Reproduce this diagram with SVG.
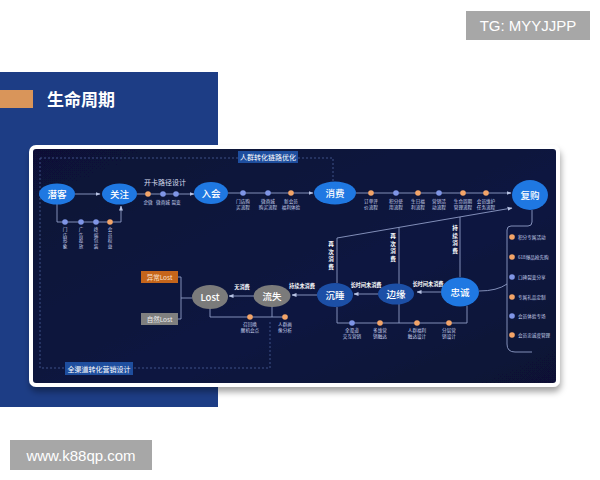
<svg xmlns="http://www.w3.org/2000/svg" width="600" height="480" viewBox="0 0 600 480">
<style>
.cj{font-family:"Noto Sans CJK SC","Noto Sans",sans-serif}
.nl{font-family:"Noto Sans CJK SC",sans-serif;font-size:9.5px;fill:#fff;text-anchor:middle;font-weight:500}
.sm{font-family:"Noto Sans CJK SC",sans-serif;font-size:4.6px;fill:#c9d2ee;text-anchor:middle}
.rl{font-family:"Noto Sans CJK SC",sans-serif;font-size:4.6px;fill:#c9d2ee}
.el{font-family:"Noto Sans CJK SC",sans-serif;font-size:5.2px;fill:#fff;text-anchor:middle;font-weight:700}
.vt{font-family:"Noto Sans CJK SC",sans-serif;font-size:5.6px;fill:#fff;text-anchor:middle;font-weight:700}
.ln{fill:none;stroke:#8e9cc6;stroke-width:0.9}
.ds{fill:none;stroke:#4c5f9c;stroke-width:0.8;stroke-dasharray:2 2}
.bn{fill:#1f78e2}
.dn{fill:#1c4fa6}
.gn{fill:#7b7b7b}
.do{fill:#f3a468}
.db{fill:#7f95e6}
</style>
<defs>
<marker id="ah" markerWidth="5" markerHeight="5" refX="4.5" refY="2.5" orient="auto" markerUnits="userSpaceOnUse">
<path d="M0,0.5 L5,2.5 L0,4.5 Z" fill="#b8c3e4"/>
</marker>
<linearGradient id="bg" x1="0" y1="0" x2="1" y2="1">
<stop offset="0" stop-color="#0a1136"/>
<stop offset="0.6" stop-color="#0c1640"/>
<stop offset="1" stop-color="#0a1134"/>
</linearGradient>
<filter id="sh" x="-5%" y="-5%" width="110%" height="115%">
<feDropShadow dx="1" dy="5" stdDeviation="3" flood-color="#000" flood-opacity="0.35"/>
</filter>
</defs>
<rect width="600" height="480" fill="#fff"/>
<rect x="0" y="72" width="218" height="335" fill="#1d3d85"/>
<rect x="0" y="90" width="33" height="18" fill="#d9955a"/>
<text x="47" y="106" class="cj" font-size="17" font-weight="700" fill="#fff">生命周期</text>
<rect x="466" y="11" width="124" height="29" fill="#a7a7a7"/>
<text x="528" y="31" font-family="Liberation Sans, Arial, sans-serif" font-size="15" fill="#fff" text-anchor="middle">TG: MYYJJPP</text>
<rect x="10" y="440" width="142" height="30" fill="#a7a7a7"/>
<text x="81" y="461" font-family="Liberation Sans, Arial, sans-serif" font-size="15" fill="#fff" text-anchor="middle">www.k88qp.com</text>

<rect x="31" y="147" width="527" height="238" rx="5" fill="url(#bg)" stroke="#fff" stroke-width="4" filter="url(#sh)"/>

<g id="dashed">
<path class="ds" d="M40 158 H238 M298 158 H333 V181 M40 158 V368 H270 V322"/>
<rect x="238" y="151" width="60" height="12" fill="#1e4e9e"/>
<text x="268" y="160" class="cj" font-size="7" fill="#fff" text-anchor="middle">人群转化链路优化</text>
<rect x="65" y="362" width="68" height="13" fill="#1e4e9e"/>
<text x="99" y="371.5" class="cj" font-size="7" fill="#fff" text-anchor="middle">全渠道转化营销设计</text>
</g>

<g id="connectors">
<path class="ln" d="M75 194 H100" marker-end="url(#ah)"/>
<path class="ln" d="M57 204 V222 H121 V206" marker-end="url(#ah)"/>
<path class="ln" d="M137 194 H194" marker-end="url(#ah)"/>
<path class="ln" d="M228 193 H313" marker-end="url(#ah)"/>
<path class="ln" d="M356 193 H511" marker-end="url(#ah)"/>
<path class="ln" d="M337 283 V238 L512 208" marker-end="url(#ah)"/>
<path class="ln" d="M399 284 V227.4"/>
<path class="ln" d="M460 277 V217"/>
<path class="ln" d="M441 292 H417" marker-end="url(#ah)"/>
<path class="ln" d="M378 294 H354" marker-end="url(#ah)"/>
<path class="ln" d="M317 295 H292" marker-end="url(#ah)"/>
<path class="ln" d="M254 296 H229" marker-end="url(#ah)"/>
<path class="ln" d="M337 307 V323 H467 V306"/>
<path class="ln" d="M399 304 V323"/>
<path class="ln" d="M210 309 V317 H285 M272 307 V317"/>
<path class="ln" d="M178 277 H181 V319 H178 M181 298 H192"/>
<path class="ln" d="M532 210 V222 Q532 226 528 226 H511 Q507 226 507 230 V344 Q507 352 515 352 H532"/>
<path class="ln" d="M479 291 Q497 291 507 284"/>
</g>

<g id="dots">
<circle cx="65" cy="222" r="2.8" class="db"/>
<circle cx="81" cy="222" r="2.8" class="db"/>
<circle cx="96" cy="222" r="2.8" class="db"/>
<circle cx="110" cy="222" r="2.8" class="do"/>
<circle cx="148" cy="194" r="2.8" class="do"/>
<circle cx="163" cy="194" r="2.8" class="db"/>
<circle cx="176" cy="194" r="2.8" class="db"/>
<circle cx="243" cy="193" r="2.8" class="db"/>
<circle cx="268" cy="193" r="2.8" class="db"/>
<circle cx="291" cy="193" r="2.8" class="do"/>
<circle cx="371" cy="193" r="2.8" class="do"/>
<circle cx="396" cy="193" r="2.8" class="db"/>
<circle cx="418" cy="193" r="2.8" class="do"/>
<circle cx="439" cy="193" r="2.8" class="db"/>
<circle cx="463" cy="193" r="2.8" class="do"/>
<circle cx="486" cy="193" r="2.8" class="do"/>
<circle cx="512" cy="237" r="2.8" class="do"/>
<circle cx="512" cy="257" r="2.8" class="do"/>
<circle cx="512" cy="277" r="2.8" class="db"/>
<circle cx="512" cy="297" r="2.8" class="do"/>
<circle cx="512" cy="316" r="2.8" class="db"/>
<circle cx="512" cy="335" r="2.8" class="do"/>
<circle cx="352" cy="323" r="2.8" class="db"/>
<circle cx="380" cy="323" r="2.8" class="do"/>
<circle cx="417" cy="323" r="2.8" class="do"/>
<circle cx="449" cy="323" r="2.8" class="do"/>
<circle cx="250" cy="317" r="2.8" class="do"/>
<circle cx="285" cy="317" r="2.8" class="do"/>
</g>

<g id="labels">
<text x="165" y="185" class="cj" font-size="7" fill="#d8deef" text-anchor="middle">开卡路径设计</text>
<text x="148" y="204" class="sm">企微</text>
<text x="163" y="204" class="sm">微商城</text>
<text x="176" y="204" class="sm">裂变</text>
<text x="65" y="231" class="sm"><tspan x="65">门</tspan><tspan x="65" dy="5.5">店</tspan><tspan x="65" dy="5.5">形</tspan><tspan x="65" dy="5.5">象</tspan></text>
<text x="81" y="231" class="sm"><tspan x="81">广</tspan><tspan x="81" dy="5.5">告</tspan><tspan x="81" dy="5.5">投</tspan><tspan x="81" dy="5.5">放</tspan></text>
<text x="96" y="231" class="sm"><tspan x="96">终</tspan><tspan x="96" dy="5.5">端</tspan><tspan x="96" dy="5.5">包</tspan><tspan x="96" dy="5.5">装</tspan></text>
<text x="110" y="231" class="sm"><tspan x="110">会</tspan><tspan x="110" dy="5.5">员</tspan><tspan x="110" dy="5.5">权</tspan><tspan x="110" dy="5.5">益</tspan></text>
<text class="sm"><tspan x="243" y="203">门店购</tspan><tspan x="243" y="209">买流程</tspan></text>
<text class="sm"><tspan x="268" y="203">微商城</tspan><tspan x="268" y="209">购买流程</tspan></text>
<text class="sm"><tspan x="291" y="203">新会员</tspan><tspan x="291" y="209">福利体验</tspan></text>
<text class="sm"><tspan x="371" y="203">订单评</tspan><tspan x="371" y="209">价流程</tspan></text>
<text class="sm"><tspan x="396" y="203">积分使</tspan><tspan x="396" y="209">用流程</tspan></text>
<text class="sm"><tspan x="418" y="203">生日福</tspan><tspan x="418" y="209">利流程</tspan></text>
<text class="sm"><tspan x="439" y="203">营销活</tspan><tspan x="439" y="209">动流程</tspan></text>
<text class="sm"><tspan x="463" y="203">生命周期</tspan><tspan x="463" y="209">管理流程</tspan></text>
<text class="sm"><tspan x="486" y="203">会员维护</tspan><tspan x="486" y="209">任务流程</tspan></text>
<text x="518" y="238.6" class="rl">积分专属活动</text>
<text x="518" y="258.6" class="rl">618爆品抢先购</text>
<text x="518" y="278.6" class="rl">口碑裂变分享</text>
<text x="518" y="298.6" class="rl">专属礼品定制</text>
<text x="518" y="317.6" class="rl">会员体验专场</text>
<text x="518" y="336.6" class="rl">会员忠诚度管理</text>
<text class="sm"><tspan x="352" y="332">全渠道</tspan><tspan x="352" y="338">交互营销</tspan></text>
<text class="sm"><tspan x="380" y="332">多维营</tspan><tspan x="380" y="338">销触达</tspan></text>
<text class="sm"><tspan x="417" y="332">人群福利</tspan><tspan x="417" y="338">触达设计</tspan></text>
<text class="sm"><tspan x="449" y="332">分层营</tspan><tspan x="449" y="338">销设计</tspan></text>
<text class="sm"><tspan x="250" y="326">召回唤</tspan><tspan x="250" y="332">醒机会点</tspan></text>
<text class="sm"><tspan x="285" y="326">人群画</tspan><tspan x="285" y="332">像分析</tspan></text>
<text x="428" y="286" class="el">长时间未消费</text>
<text x="366" y="287" class="el">长时间未消费</text>
<text x="302" y="288" class="el">持续未消费</text>
<text x="242" y="289" class="el">无消费</text>
<text x="331" y="246" class="vt">再</text><text x="331" y="253.5" class="vt">次</text><text x="331" y="261" class="vt">消</text><text x="331" y="268.5" class="vt">费</text>
<text x="393" y="238" class="vt">再</text><text x="393" y="245.5" class="vt">次</text><text x="393" y="253" class="vt">消</text><text x="393" y="260.5" class="vt">费</text>
<text x="455" y="230" class="vt">持</text><text x="455" y="237.5" class="vt">续</text><text x="455" y="245" class="vt">消</text><text x="455" y="252.5" class="vt">费</text>
</g>

<g id="n-qianke"><ellipse cx="57" cy="194" rx="18" ry="10.5" class="bn"/><text x="57" y="197.5" class="nl">潜客</text></g>
<g id="n-guanzhu"><ellipse cx="119.5" cy="194" rx="17.5" ry="10.5" class="bn"/><text x="119.5" y="197.5" class="nl">关注</text></g>
<g id="n-ruhui"><ellipse cx="211" cy="193" rx="17" ry="11" class="bn"/><text x="211" y="196.5" class="nl">入会</text></g>
<g id="n-xiaofei"><ellipse cx="335" cy="193" rx="21" ry="11.5" class="bn"/><text x="335" y="196.5" class="nl">消费</text></g>
<g id="n-fugou"><ellipse cx="530" cy="195" rx="18" ry="15" class="bn"/><text x="530" y="198.5" class="nl" font-size="10.5">复购</text></g>
<g id="n-zhongcheng"><ellipse cx="460" cy="292" rx="19" ry="14.5" class="bn"/><text x="460" y="296" class="nl" font-size="10.5">忠诚</text></g>
<g id="n-bianyuan"><ellipse cx="396" cy="294" rx="18" ry="10.5" class="dn"/><text x="396" y="297.5" class="nl">边缘</text></g>
<g id="n-chenshui"><ellipse cx="335" cy="295" rx="18" ry="12" class="dn"/><text x="335" y="298.5" class="nl">沉睡</text></g>
<g id="n-liushi"><ellipse cx="272" cy="296" rx="18.5" ry="11" class="gn"/><text x="272" y="299.5" class="nl">流失</text></g>
<g id="n-lost"><ellipse cx="210" cy="297" rx="18" ry="12" class="gn"/><text x="210" y="300.5" class="nl" font-family="Liberation Sans, sans-serif">Lost</text></g>
<g id="n-yichang"><rect x="141" y="271" width="37" height="12" fill="#c5651b"/><text x="159.5" y="279.5" class="cj" font-size="6.5" fill="#fbe3cc" text-anchor="middle">异常Lost</text></g>
<g id="n-ziran"><rect x="141" y="313" width="37" height="12" fill="#7f7f7f"/><text x="159.5" y="321.5" class="cj" font-size="6.5" fill="#eee" text-anchor="middle">自然Lost</text></g>
</svg>
